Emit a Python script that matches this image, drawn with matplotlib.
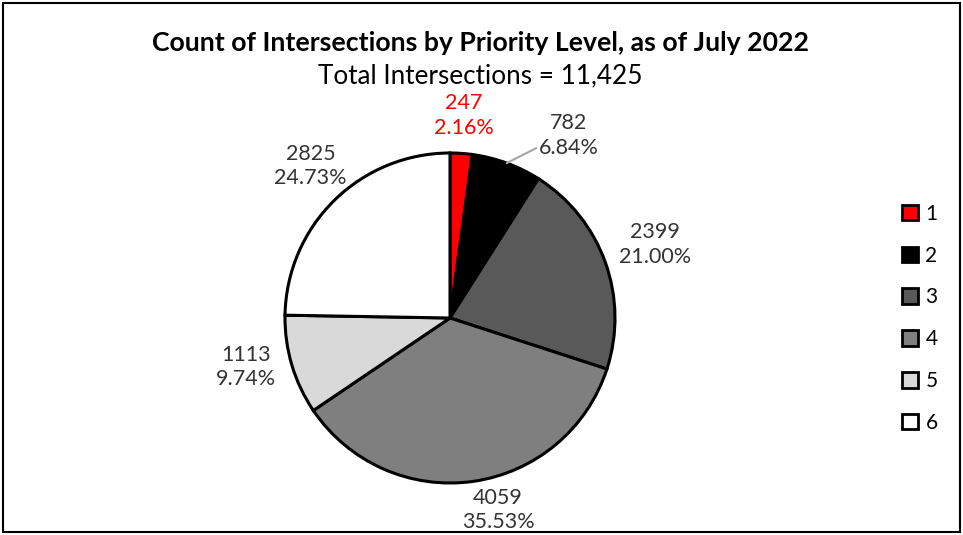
import numpy as np
import matplotlib.pyplot as plt
from matplotlib.patches import Patch, Rectangle

# Veriler
levels = ["1", "2", "3", "4", "5", "6"]
counts = [247, 782, 2399, 4059, 1113, 2825]
colors = ["#ff0000", "#000000", "#595959", "#7f7f7f", "#d9d9d9", "#ffffff"]
label_colors = ["#ff0000", "#333333", "#333333", "#333333", "#333333", "#333333"]
# etiket yerleşimi (yarıçap oranı, açı kaydırma)
label_dist = [1.23, 1.32, 1.32, 1.20, 1.27, 1.25]
label_shift = [0, -13, 0, 6, -3, -2]

plt.rcParams["font.family"] = ["Lato", "DejaVu Sans"]

fig = plt.figure(figsize=(9.63, 5.35), dpi=100)
fig.patches.append(Rectangle((0.003, 0.005), 0.994, 0.99, transform=fig.transFigure,
                             fill=False, edgecolor="black", linewidth=1.5))

cx, cy, r = 450, 318, 165
ax = fig.add_axes([(cx - r) / 963, (535 - cy - r) / 535, 2 * r / 963, 2 * r / 535])

wedges, _ = ax.pie(counts, colors=colors, startangle=90, counterclock=False,
                   wedgeprops=dict(edgecolor="black", linewidth=2.2))
ax.set_xlim(-1, 1)
ax.set_ylim(-1, 1)
ax.set_aspect("equal")
ax.axis("off")

total = sum(counts)
cum = 0
for i, v in enumerate(counts):
    mid = 90 - 360 * (cum + v / 2) / total
    cum += v
    ang = np.deg2rad(mid + label_shift[i])
    x, y = label_dist[i] * np.cos(ang), label_dist[i] * np.sin(ang)
    txt = f"{v}\n{v / total * 100:.2f}%"
    if i == 1:
        ma = np.deg2rad(mid)
        ax.annotate(txt, xy=(1.0 * np.cos(ma), 1.0 * np.sin(ma)), xytext=(x, y),
                    ha="center", va="center", fontsize=15.5, color=label_colors[i],
                    linespacing=1.3, annotation_clip=False,
                    arrowprops=dict(arrowstyle="-", color="#a6a6a6", lw=1.5,
                                    shrinkA=0, shrinkB=0, relpos=(0.0, 0.25)))
    else:
        ax.text(x, y, txt, ha="center", va="center", fontsize=15.5,
                color=label_colors[i], linespacing=1.3, clip_on=False)

fig.text(0.499, 0.92, "Count of Intersections by Priority Level, as of July 2022",
         ha="center", va="center", fontsize=19.2, fontweight="bold")
fig.text(0.499, 0.858, "Total Intersections = 11,425", ha="center", va="center",
         fontsize=18.8)

fig.legend(handles=[Patch(facecolor=c, edgecolor="black", linewidth=2) for c in colors],
           labels=levels, loc="center right", bbox_to_anchor=(0.993, 0.405),
           frameon=False, fontsize=15, handlelength=0.75, handleheight=0.75,
           handletextpad=0.35, labelspacing=1.05)

fig.savefig("out.png", dpi=100)
